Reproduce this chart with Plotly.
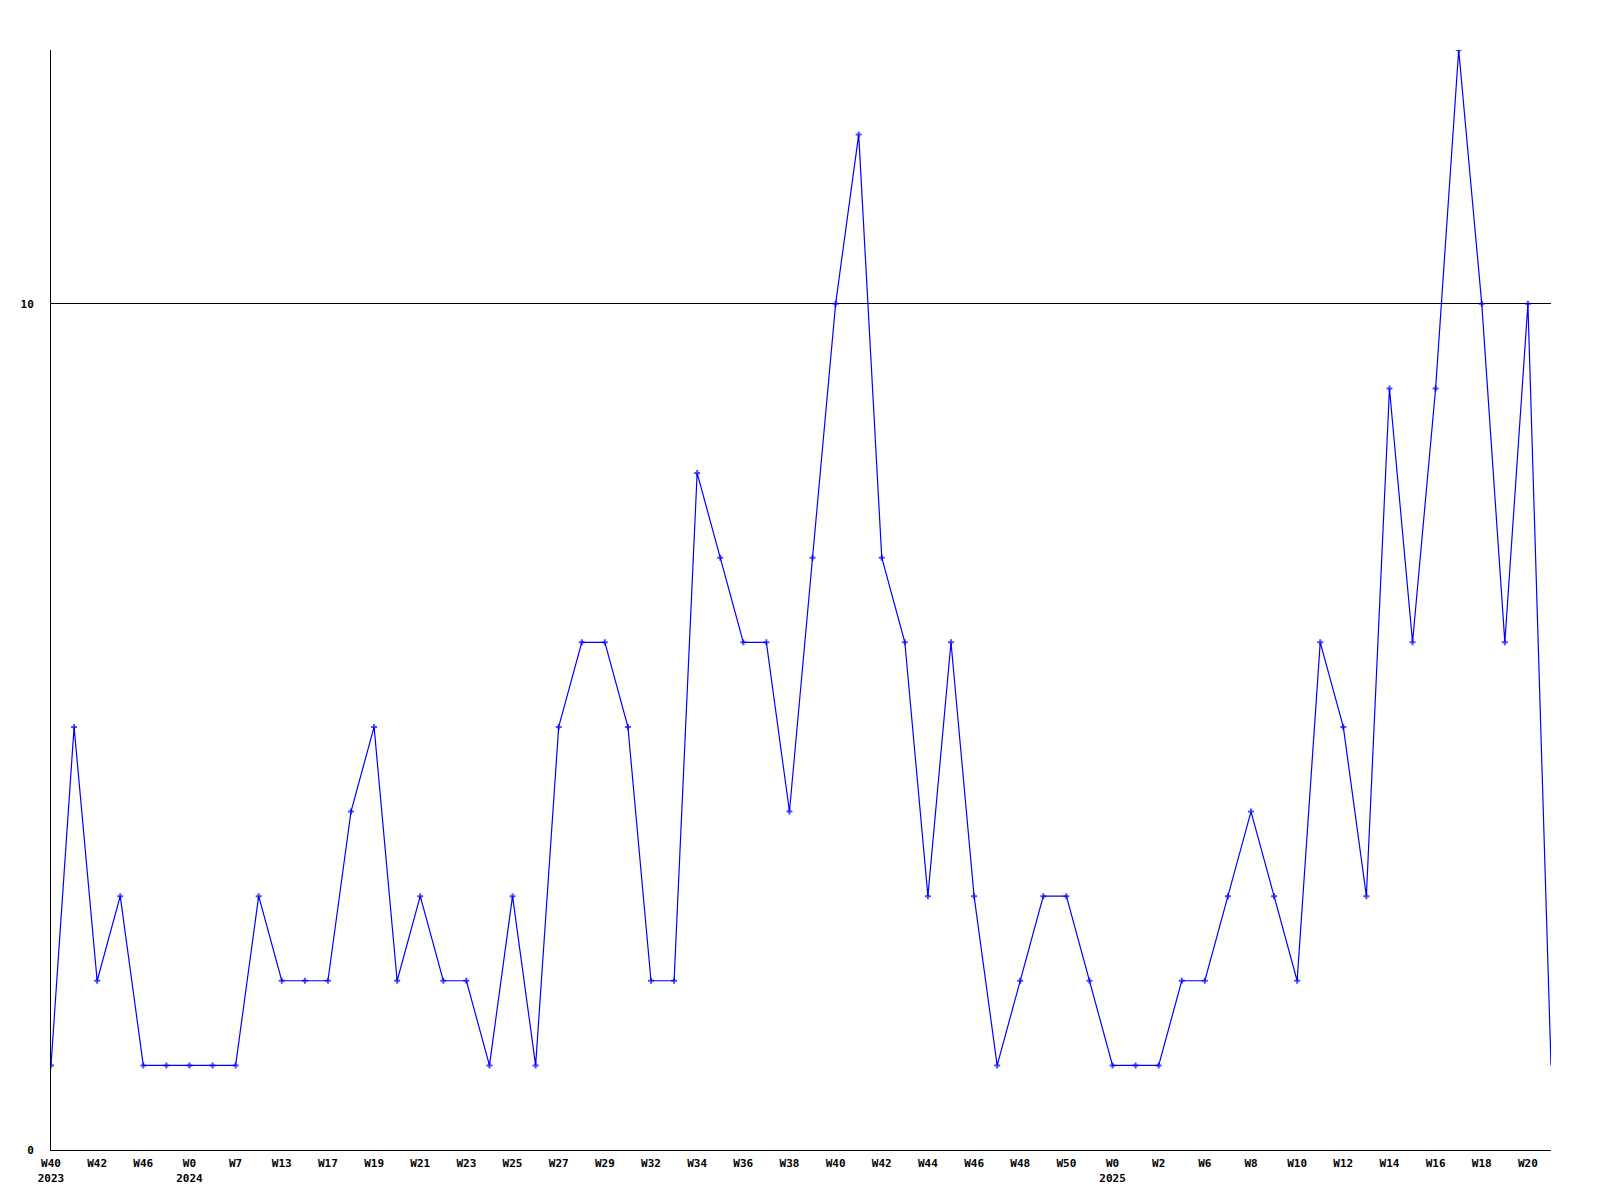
import plotly.graph_objects as go

# Week categories (unique keys), every other one is labelled on the axis
weeks = [
    "2023-W40", "2023-W41", "2023-W42", "2023-W44", "2023-W46", "2023-W49",
    "2024-W0", "2024-W3", "2024-W7", "2024-W11", "2024-W13", "2024-W15",
    "2024-W17", "2024-W18", "2024-W19", "2024-W20", "2024-W21", "2024-W22",
    "2024-W23", "2024-W24", "2024-W25", "2024-W26", "2024-W27", "2024-W28",
    "2024-W29", "2024-W30", "2024-W32", "2024-W33", "2024-W34", "2024-W35",
    "2024-W36", "2024-W37", "2024-W38", "2024-W39", "2024-W40", "2024-W41",
    "2024-W42", "2024-W43", "2024-W44", "2024-W45", "2024-W46", "2024-W47",
    "2024-W48", "2024-W49", "2024-W50", "2024-W51", "2025-W0", "2025-W1",
    "2025-W2", "2025-W4", "2025-W6", "2025-W7", "2025-W8", "2025-W9",
    "2025-W10", "2025-W11", "2025-W12", "2025-W13", "2025-W14", "2025-W15",
    "2025-W16", "2025-W17", "2025-W18", "2025-W19", "2025-W20", "2025-W21",
]

counts = [
    1, 5, 2, 3, 1, 1, 1, 1, 1, 3, 2, 2, 2, 4, 5, 2, 3, 2, 2, 1, 3, 1,
    5, 6, 6, 5, 2, 2, 8, 7, 6, 6, 4, 7, 10, 12, 7, 6, 3, 6, 3, 1, 2, 3,
    3, 2, 1, 1, 1, 2, 2, 3, 4, 3, 2, 6, 5, 3, 9, 6, 9, 13, 10, 6, 10, 1,
]

tick_weeks = [
    "2023-W40", "2023-W42", "2023-W46", "2024-W0", "2024-W7", "2024-W13",
    "2024-W17", "2024-W19", "2024-W21", "2024-W23", "2024-W25", "2024-W27",
    "2024-W29", "2024-W32", "2024-W34", "2024-W36", "2024-W38", "2024-W40",
    "2024-W42", "2024-W44", "2024-W46", "2024-W48", "2024-W50", "2025-W0",
    "2025-W2", "2025-W6", "2025-W8", "2025-W10", "2025-W12", "2025-W14",
    "2025-W16", "2025-W18", "2025-W20",
]
tick_labels = [
    "W40<br>2023", "W42", "W46", "W0<br>2024", "W7", "W13",
    "W17", "W19", "W21", "W23", "W25", "W27",
    "W29", "W32", "W34", "W36", "W38", "W40",
    "W42", "W44", "W46", "W48", "W50", "W0<br>2025",
    "W2", "W6", "W8", "W10", "W12", "W14",
    "W16", "W18", "W20",
]

y_ticks = [0, 10]

marker_sizes = [5] * (len(counts) - 1) + [0]

fig = go.Figure()
fig.add_trace(go.Scatter(
    x=weeks, y=counts, mode="lines+markers",
    line=dict(color="#0000ff", width=1.2),
    marker=dict(symbol="cross", size=marker_sizes, color="#0000ff", line=dict(width=0)),
    showlegend=False, hoverinfo="x+y",
))

tick_font = dict(family="DejaVu Sans Mono", size=11, color="black", weight="bold")

fig.update_layout(
    width=1584, height=1184,
    margin=dict(l=43, r=41, t=42, b=42),
    paper_bgcolor="white", plot_bgcolor="white",
    xaxis=dict(
        type="category", categoryorder="array", categoryarray=weeks,
        range=[0, len(weeks) - 1], automargin=False,
        tickmode="array", tickvals=tick_weeks, ticktext=tick_labels,
        showgrid=False, zeroline=False,
        showline=True, linecolor="black", linewidth=1,
        ticks="", tickfont=tick_font, ticklabelstandoff=3,
    ),
    yaxis=dict(
        range=[0, 13], automargin=False,
        tickmode="array", tickvals=y_ticks, ticktext=[str(v) for v in y_ticks],
        showgrid=True, gridcolor="black", gridwidth=1,
        zeroline=False,
        showline=True, linecolor="black", linewidth=1,
        ticks="", tickfont=tick_font, ticklabelstandoff=14,
    ),
)

fig.write_html("out.html")
